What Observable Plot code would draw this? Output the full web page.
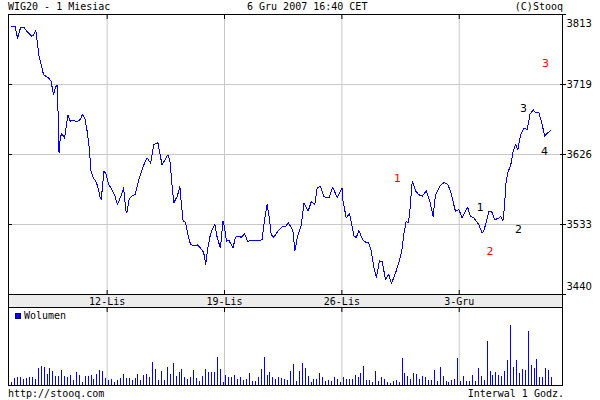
<!DOCTYPE html>
<html>
<head>
<meta charset="utf-8">
<script src="https://cdn.jsdelivr.net/npm/d3@7"></script>
<script src="https://cdn.jsdelivr.net/npm/@observablehq/plot@0.6"></script>
<style>
  body { margin: 0; background: #fff; }
  #wrap { position: relative; width: 600px; height: 400px; overflow: hidden;
          font-family: "DejaVu Sans Mono", monospace; font-size: 10px; color: #000; }
  .abs { position: absolute; white-space: nowrap; line-height: 10px; z-index: 2; }
  #band { position: absolute; left: 8px; top: 295px; width: 555px; height: 12px; z-index: 0;
          background: #ececec; border-left: 1px solid #000; border-right: 1px solid #000; box-sizing: border-box; }
  #wrap svg { position: absolute; left: 0; z-index: 1; background: transparent !important; }
  #sq { position: absolute; left: 15px; top: 313px; width: 6px; height: 6px; z-index: 2; background: #0000ff; border: 1px solid #000080; box-sizing: border-box; }
</style>
</head>
<body>
<div id="wrap">
  <div class="abs" style="left:8px;top:2px">WIG20 - 1 Miesiac</div>
  <div class="abs" style="left:247px;top:2px">6 Gru 2007 16:40 CET</div>
  <div class="abs" style="right:37px;top:2px">(C)Stooq</div>
  <div id="band"></div>
  <div id="sq"></div>
  <div class="abs" style="left:24px;top:311px">Wolumen</div>
  <div class="abs" style="left:8px;top:389px">http://stooq.com</div>
  <div class="abs" style="right:36px;top:389px">Interwal 1 Godz.</div>
</div>
<script>
// hourly bar index (0 = last hour of 5 Nov 2007, 184 = 6 Dec 2007 16:00)
const priceIdx = [0,1.1,2.0,3.0,4.1,5.5,6.8,7.5,8.2,8.8,9.3,9.9,10.8,11.9,12.7,13.4,14.2,14.5,15.0,15.5,15.7,15.9,16.1,16.5,17.0,18.0,18.5,19.1,19.9,21.0,22.2,23.3,24.1,25.0,25.7,26.4,27.0,27.8,28.6,29.3,30.1,30.5,31.4,32.0,33.0,34.1,35.0,36.0,37.2,38.1,38.9,39.2,40.0,40.9,42.0,42.6,43.4,
  43.9,44.8,46.1,47.3,48.4,49.8,50.4,51.2,52.0,53.2,53.9,54.7,55.2,56.4,57.3,57.8,58.4,59.2,60.0,60.9,62.0,63.4,64.3,65.4,66.1,66.8,67.7,68.6,69.2,70.0,71.1,72.0,72.5,73.2,74.0,75.4,76.2,77.4,78.2,79.3,80.4,82.5,84.2,85.3,86.1,87.0,87.7,88.4,89.3,
  90.8,92.1,93.3,94.2,95.0,95.8,96.5,97.3,98.1,98.7,99.6,101.0,102.1,103.3,104.1,105.2,106.4,108.1,109.4,110.9,112.6,112.9,114.0,115.1,116.6,117.4,118.3,119.6,120.8,121.5,122.3,123.4,124.3,125.3,126.2,127.4,128.5,129.4,130.2,131.0,132.1,133.1,133.6,134.4,135.1,135.6,
  135.9,136.5,137.6,138.7,139.9,141.3,142.5,143.6,144.4,145.9,147.2,148.6,149.7,151.2,152.4,153.5,154.6,155.4,156.3,157.5,159.2,160.3,160.9,161.8,162.6,163.5,164.6,165.7,166.6,167.4,167.9,168.5,169.2,170.0,170.9,171.7,172.5,173.4,174.5,175.7,176.6,177.7,178.5,179.6,180.8,181.6,182.5,183.6];
const priceVal = [3797,3797,3781,3796,3796,3789,3784,3786,3792,3772,3757,3748,3733,3730,3728,3724,3706,3710,3717,3719,3695,3653,3629,3648,3655,3648,3662,3679,3671,3672,3670,3673,3680,3673,3657,3635,3604,3595,3591,3584,3569,3567,3604,3602,3587,3580,3573,3560,3571,3582,3551,3549,3567,3571,3573,3582,3595,
  3600,3611,3622,3615,3640,3642,3629,3613,3618,3626,3618,3582,3562,3571,3584,3560,3538,3536,3520,3507,3505,3506,3502,3496,3480,3502,3520,3529,3534,3516,3502,3538,3529,3511,3512,3502,3516,3518,3516,3521,3511,3512,3512,3513,3538,3560,3544,3520,3516,
  3525,3530,3530,3536,3531,3525,3498,3516,3525,3533,3562,3551,3564,3560,3582,3584,3570,3569,3583,3569,3582,3564,3542,3548,3518,3516,3525,3513,3509,3509,3502,3476,3463,3485,3484,3460,3467,3454,3463,3471,3485,3502,3520,3537,3536,3547,
  3564,3591,3578,3573,3571,3578,3564,3544,3573,3584,3589,3587,3575,3551,3553,3542,3551,3556,3544,3542,3533,3522,3525,3538,3551,3551,3540,3541,3544,3538,3556,3591,3604,3611,3631,3640,3633,3653,3661,3660,3680,3686,3682,3683,3666,3651,3655,3658];
// hourly volume (relative units), one per bar index 0..184
const volume = [10,21,24,25,18,22,25,25,18,52,58,55,33,52,42,28,28,46,28,25,31,16,40,30,10,28,28,29,19,34,46,43,22,16,18,10,16,22,34,22,22,16,20,34,16,31,34,25,70,49,16,43,16,55,34,67,28,40,49,25,19,25,46,22,13,28,49,40,40,40,85,49,10,31,25,25,31,19,25,16,19,37,13,13,25,49,85,31,40,25,19,25,22,19,
  16,43,64,13,43,67,52,28,10,19,19,37,25,13,16,13,25,19,10,25,19,19,19,31,25,37,58,16,16,10,43,13,25,19,10,7,13,16,10,82,37,28,19,37,34,19,28,25,16,16,46,13,55,28,13,10,16,19,82,13,28,13,13,31,13,52,28,16,130,43,31,40,31,28,43,76,178,55,76,37,49,46,160,61,52,79,25,25,52,46,25];
const gridIdx = [32.5, 72.5, 112.5, 152.5];
const dateLabels = ["12-Lis", "19-Lis", "26-Lis", "3-Gru"];
const priceTicks = [3440, 3533.25, 3626.5, 3719.75, 3813];
const noteText  = ["1", "2", "3", "1", "2", "3", "4"];
const noteColor = ["#ff0000", "#ff0000", "#ff0000", "#000000", "#000000", "#000000", "#000000"];
const noteIdx   = [131.5, 163.0, 181.9, 159.7, 172.7, 174.4, 181.6];
const notePrice = [3594.5, 3497.2, 3747.7, 3555.9, 3526.5, 3687.7, 3630.4];

const price = priceIdx.map((x, k) => ({x, y: priceVal[k]}));
const vol = volume.map((v, k) => ({x: k, v}));
const notes = noteText.map((t, k) => ({t, c: noteColor[k], x: noteIdx[k], y: notePrice[k]}));
const xDomain = [-1.125, 187.7];
const grey = "#c8c8c8";
const mono = "DejaVu Sans Mono";
const blank = () => "";

const plotA = Plot.plot({
  width: 600, height: 308,
  marginLeft: 8, marginRight: 38, marginTop: 14, marginBottom: 14,
  x: {domain: xDomain, axis: null, label: null},
  y: {domain: [3440, 3813], axis: null, label: null},
  style: {background: "transparent", fontFamily: "DejaVu Sans", fontSize: "10px", overflow: "visible"},
  marks: [
    Plot.gridX(gridIdx, {stroke: grey, strokeOpacity: 1}),
    Plot.gridY(priceTicks.slice(1, 4), {stroke: grey, strokeOpacity: 1}),
    Plot.line(price, {x: "x", y: "y", stroke: "#0000ff", strokeWidth: 1, shapeRendering: "crispEdges"}),
    Plot.frame({stroke: "#000"}),
    Plot.axisY(priceTicks, {anchor: "right", tickSize: 6, dx: -3, tickFormat: blank, label: null}),
    Plot.axisY(priceTicks.slice(1, 4), {anchor: "left", tickSize: 4, dx: 4, tickFormat: blank, label: null}),
    Plot.axisX(gridIdx, {anchor: "top", tickSize: 4, dy: 4, tickFormat: blank, label: null}),
    Plot.axisX(gridIdx, {anchor: "bottom", tickSize: 4, dy: -4, tickFormat: blank, label: null}),
    Plot.axisX(gridIdx, {anchor: "bottom", tickSize: 0, tickPadding: 3, label: null,
      tickFormat: d => dateLabels[gridIdx.indexOf(d)], fontFamily: mono, fontSize: 10, fill: "#000"}),
    Plot.text(priceTicks.slice(1, 4), {y: d => d, text: d => String(Math.floor(d)), frameAnchor: "right", dx: 4, textAnchor: "start", fill: "#000"}),
    Plot.text([priceTicks[4]], {y: d => d, text: d => String(Math.floor(d)), frameAnchor: "right", dx: 4, dy: 9, textAnchor: "start", fill: "#000"}),
    Plot.text([priceTicks[0]], {y: d => d, text: d => String(Math.floor(d)), frameAnchor: "right", dx: 4, dy: -8, textAnchor: "start", fill: "#000"}),
    Plot.text(notes, {x: "x", y: "y", text: "t", fill: "c", fontSize: 11})
  ]
});
plotA.style.top = "0px";

const plotB = Plot.plot({
  width: 600, height: 100,
  marginLeft: 8, marginRight: 38, marginTop: 7, marginBottom: 15,
  x: {domain: xDomain, axis: null, label: null},
  y: {domain: [0, 233], axis: null, label: null},
  style: {background: "transparent", overflow: "visible"},
  marks: [
    Plot.gridX(gridIdx, {stroke: grey, strokeOpacity: 1}),
    Plot.ruleX(vol, {x: "x", y1: 0, y2: "v", stroke: "#0000ff", shapeRendering: "crispEdges"}),
    Plot.frame({stroke: "#000"}),
    Plot.axisX(gridIdx, {anchor: "top", tickSize: 4, dy: 4, tickFormat: blank, label: null})
  ]
});
plotB.style.top = "300px";

const wrap = document.getElementById("wrap");
wrap.appendChild(plotA);
wrap.appendChild(plotB);
</script>
</body>
</html>
